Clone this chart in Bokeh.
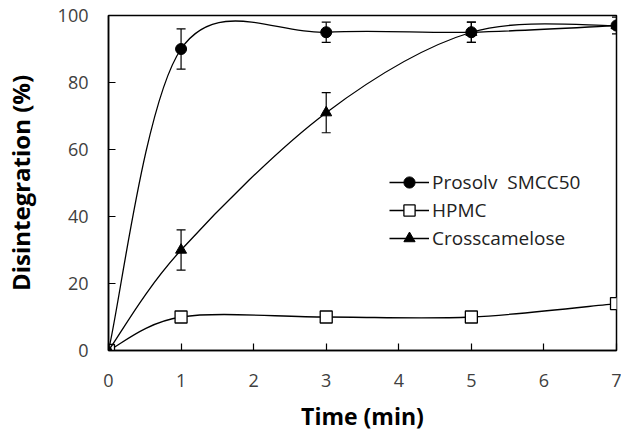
from bokeh.plotting import figure
from bokeh.models import (ColumnDataSource, Whisker, TeeHead, Legend, LegendItem,
                          FixedTicker, Range1d)
from bokeh.embed import file_html
from bokeh.resources import INLINE

# ---- data ----
time_min = [0, 1, 3, 5, 7]
prosolv = [0, 90, 95, 95, 97]
prosolv_err = [0, 6, 3, 3, 2.5]
hpmc = [0, 10, 10, 10, 14]
hpmc_err = [0, 0, 0, 0, 0]
crossc = [0, 30, 71, 95, 97]
crossc_err = [0, 6, 6, 3, 0]
series_names = ["Prosolv  SMCC50", "HPMC", "Crosscamelose"]
x_ticks = [0, 1, 2, 3, 4, 5, 6, 7]
y_ticks = [0, 20, 40, 60, 80, 100]

FONT = "Open Sans"

p = figure(width=621, height=439, output_backend="svg", toolbar_location=None,
           x_range=Range1d(0, 7), y_range=Range1d(0, 100),
           min_border_left=99, min_border_right=5, min_border_top=15, min_border_bottom=89)
p.background_fill_color = "white"
p.border_fill_color = "white"
p.outline_line_color = "black"
p.outline_line_width = 1.5
p.xgrid.visible = False
p.ygrid.visible = False

for ax, ticks in ((p.xaxis[0], x_ticks), (p.yaxis[0], y_ticks)):
    ax.ticker = FixedTicker(ticks=ticks)
    ax.major_tick_in = 7
    ax.major_tick_out = 0
    ax.minor_tick_line_color = None
    ax.axis_line_color = "black"
    ax.axis_line_width = 1.5
    ax.major_tick_line_color = "black"
    ax.major_tick_line_width = 1.2
    ax.major_label_text_font = FONT
    ax.major_label_text_font_size = "18px"
    ax.major_label_text_color = "#404040"
    ax.axis_label_text_font = FONT
    ax.axis_label_text_font_size = "23px"
    ax.axis_label_text_font_style = "bold"
    ax.axis_label_text_color = "black"

p.yaxis.axis_label_text_font_size = "24px"
p.xaxis.axis_label = "Time (min)"
p.yaxis.axis_label = "Disintegration (%)"
p.xaxis.major_label_standoff = 23
p.xaxis.axis_label_standoff = 10
p.yaxis.major_label_standoff = 20
p.yaxis.axis_label_standoff = 18


def smooth_segments(xs, ys):
    """Catmull-Rom style Bezier control points (Excel smoothed line)."""
    n = len(xs)
    d = dict(x0=[], y0=[], x1=[], y1=[], cx0=[], cy0=[], cx1=[], cy1=[])
    for i in range(n - 1):
        xp, yp = (xs[i - 1], ys[i - 1]) if i > 0 else (xs[i], ys[i])
        xn, yn = (xs[i + 2], ys[i + 2]) if i + 2 < n else (xs[i + 1], ys[i + 1])
        d["x0"].append(xs[i]); d["y0"].append(ys[i])
        d["x1"].append(xs[i + 1]); d["y1"].append(ys[i + 1])
        d["cx0"].append(xs[i] + (xs[i + 1] - xp) / 6.0)
        d["cy0"].append(ys[i] + (ys[i + 1] - yp) / 6.0)
        d["cx1"].append(xs[i + 1] - (xn - xs[i]) / 6.0)
        d["cy1"].append(ys[i + 1] - (yn - ys[i]) / 6.0)
    return ColumnDataSource(d)


series = [
    (prosolv, prosolv_err, dict(marker="circle", size=11, fill_color="black", line_color="black")),
    (hpmc, hpmc_err, dict(marker="square", size=12, fill_color="white", line_color="black", line_width=1.3)),
    (crossc, crossc_err, dict(marker="triangle", size=11, fill_color="black", line_color="black")),
]

legend_items = []
for (ys, err, mk), name in zip(series, series_names):
    br = p.bezier(x0="x0", y0="y0", x1="x1", y1="y1", cx0="cx0", cy0="cy0", cx1="cx1", cy1="cy1",
                  source=smooth_segments(time_min, ys), line_color="black", line_width=1.3)
    src = ColumnDataSource(dict(x=time_min, y=ys,
                                upper=[v + e for v, e in zip(ys, err)],
                                lower=[v - e for v, e in zip(ys, err)]))
    if any(e > 0 for e in err):
        w = Whisker(base="x", upper="upper", lower="lower", source=src, dimension="height",
                    line_color="black", line_width=1.2,
                    upper_head=TeeHead(size=9, line_color="black", line_width=1.2),
                    lower_head=TeeHead(size=9, line_color="black", line_width=1.2))
        p.add_layout(w)
    sr = p.scatter(x="x", y="y", source=src, **mk)
    legend_items.append(LegendItem(label=name, renderers=[br, sr], index=1))

legend = Legend(items=legend_items, location=(281, 98), orientation="vertical",
                glyph_width=40, glyph_height=28, label_height=28, label_standoff=3,
                spacing=0, padding=0, margin=0,
                border_line_color=None, background_fill_alpha=0,
                label_text_font=FONT, label_text_font_size="19px", label_text_color="#222222")
p.add_layout(legend, "center")

open("out.html", "w").write(file_html(p, INLINE))
